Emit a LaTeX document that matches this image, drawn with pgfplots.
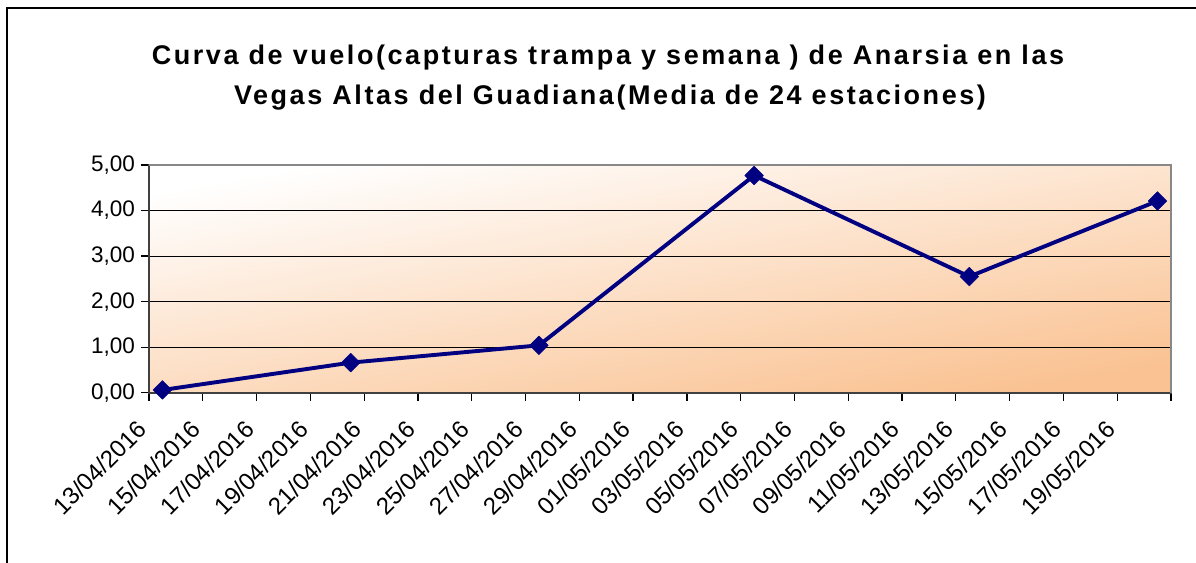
\documentclass[border=0pt]{standalone}
\usepackage{fontspec}
\setmainfont{Liberation Sans}
\newfontfamily\titlefont[LetterSpace=9.5]{Liberation Sans}
\usepackage{pgfplots}
\pgfplotsset{compat=1.18}
\definecolor{navy}{RGB}{0,0,128}
\definecolor{peach}{RGB}{250,194,146}
\definecolor{axgray}{RGB}{64,64,64}
\definecolor{bordergray}{RGB}{136,136,136}
\begin{document}
\begin{tikzpicture}[x=1pt,y=1pt]
\useasboundingbox (0,0) rectangle (1196,562);
\fill[white] (0,0) rectangle (1196,562);
\draw[black, line width=1.8pt] (7.3,-2) -- (7.3,553.7) -- (1200,553.7);
\node[anchor=base, inner sep=0pt, font=\titlefont\bfseries\fontsize{27}{32}\selectfont] at (608,497) {Curva de vuelo(capturas trampa y semana ) de Anarsia en las};
\node[anchor=base, inner sep=0pt, font=\titlefont\bfseries\fontsize{27}{32}\selectfont] at (610,457) {Vegas Altas del Guadiana(Media de 24 estaciones)};
\begin{axis}[
  at={(149pt,169.3pt)}, anchor=south west,
  width=1022pt, height=227.7pt, scale only axis,
  xmin=0, xmax=38, ymin=0, ymax=5,
  axis background/.style={top color=white, bottom color=peach, shading angle=10},
  axis line style={draw=axgray, line width=2pt},
  tick pos=left, tick align=outside, major tick length=8pt,
  tick style={black, line width=1.3pt},
  xtick={0,2,...,38},
  xticklabels={13/04/2016,15/04/2016,17/04/2016,19/04/2016,21/04/2016,23/04/2016,25/04/2016,27/04/2016,29/04/2016,01/05/2016,03/05/2016,05/05/2016,07/05/2016,09/05/2016,11/05/2016,13/05/2016,15/05/2016,17/05/2016,19/05/2016,{}},
  ytick={0,1,2,3,4,5},
  yticklabels={{0,00},{1,00},{2,00},{3,00},{4,00},{5,00}},
  ymajorgrids, grid style={black, line width=1pt},
  yticklabel style={font=\fontsize{22.5}{26}\selectfont, anchor=east, inner sep=0pt, xshift=-6pt},
  xticklabel style={font=\fontsize{24}{28}\selectfont, anchor=north east, inner sep=0pt, xshift=-13pt, yshift=-18pt, rotate=45},
  clip=false,
]
\addplot[navy, line width=3.9pt, line join=round, mark=square*, mark size=6.6pt, mark options={rotate=45, solid, fill=navy, line width=0.5pt}] coordinates {
(0.5,0.06) (7.5,0.66) (14.5,1.04) (22.5,4.77) (30.5,2.55) (37.5,4.21)
};
\draw[bordergray, line width=2pt] (axis cs:0,5) -- (axis cs:38,5) -- (axis cs:38,0);
\end{axis}
\end{tikzpicture}
\end{document}
